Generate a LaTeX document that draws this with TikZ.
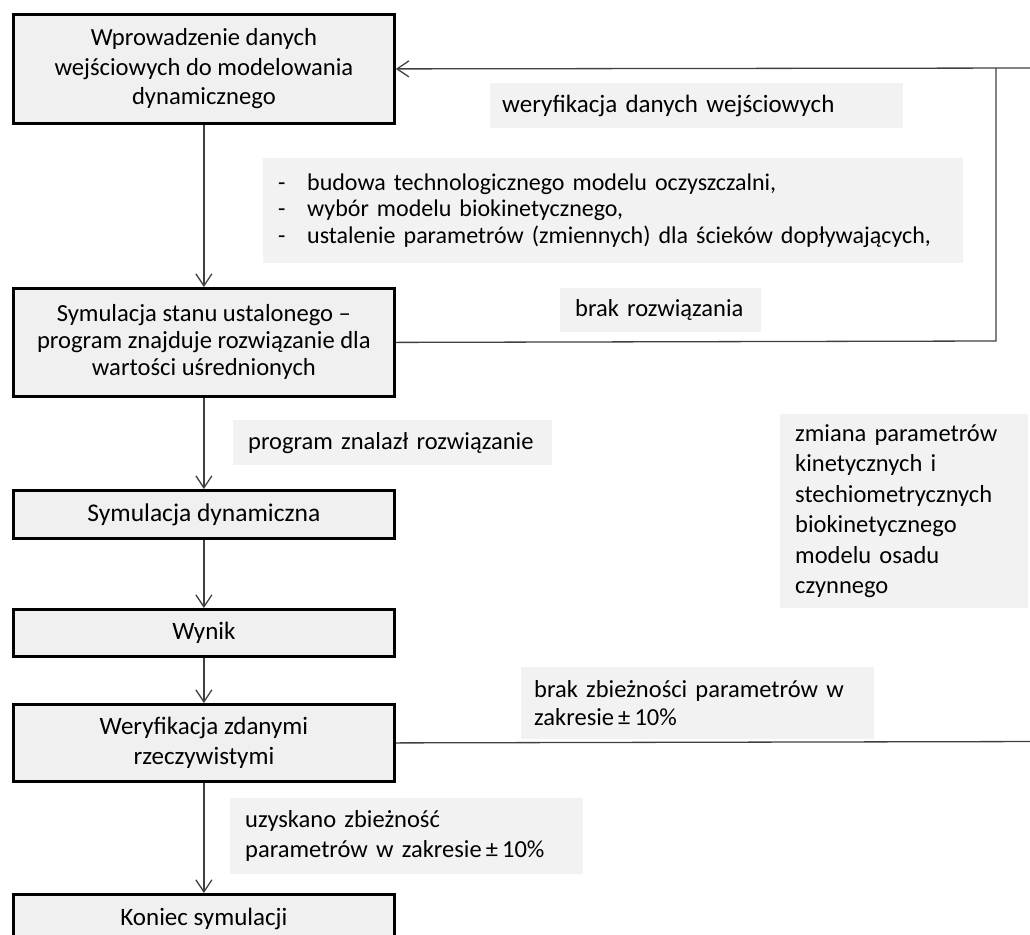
\documentclass[tikz,border=0pt]{standalone}
\usepackage{fontspec}
\setmainfont{Carlito}
\usetikzlibrary{arrows.meta}
\definecolor{boxfill}{HTML}{F0F0F0}
\definecolor{lblfill}{HTML}{F2F2F2}
\definecolor{linecol}{HTML}{404040}
\begin{document}
\begin{tikzpicture}[x=1pt,y=-1pt,
  stepbox/.style={draw=black, line width=2.8pt, fill=boxfill, minimum width=381pt,
    anchor=north west, inner sep=0pt, align=center},
  lblbox/.style={fill=lblfill, anchor=north west, inner ysep=0pt, align=left},
  conn/.style={draw=linecol, line width=1.3pt},
  arr/.style={conn, -{Straight Barb[length=12pt,width=16pt]}}]
\useasboundingbox (0,0) rectangle (1030,934);
\clip (0,0) rectangle (1030,934);
\fill[white] (0,0) rectangle (1030,934);
% main boxes
\node[stepbox, minimum height=109pt, font=\fontsize{24.6}{29.5}\selectfont] (B1) at (12,13)
  {Wprowadzenie danych\\wejściowych do modelowania\\dynamicznego};
\node[stepbox, minimum height=108pt, font=\fontsize{24.6}{27}\selectfont] (B2) at (12,287)
  {Symulacja stanu ustalonego –\\program znajduje rozwiązanie dla\\wartości uśrednionych};
\node[stepbox, minimum height=48pt, font=\fontsize{25.5}{29.5}\selectfont] (B3) at (12,489)
  {Symulacja dynamiczna};
\node[stepbox, minimum height=47pt, font=\fontsize{25}{29.5}\selectfont] (B4) at (12,608)
  {Wynik};
\node[stepbox, minimum height=77pt, font=\fontsize{25}{29.5}\selectfont] (B5) at (12,703)
  {Weryfikacja zdanymi\\rzeczywistymi};
\node[stepbox, minimum height=50pt, font=\fontsize{25}{29.5}\selectfont] (B6) at (12,893)
  {Koniec symulacji};
% label boxes
\node[lblbox, inner xsep=12pt, text width=389pt, minimum height=45pt, font=\fontsize{25}{29.5}\selectfont] (L1) at (490,83)
  {weryfikacja danych wejściowych};
\node[lblbox, inner xsep=15pt, text width=670pt, minimum height=105pt, font=\fontsize{24}{26.5}\selectfont] (L2) at (263,158)
  {\makebox[29pt][l]{-}budowa technologicznego modelu oczyszczalni,\\
   \makebox[29pt][l]{-}wybór modelu biokinetycznego,\\
   \makebox[29pt][l]{-}ustalenie parametrów (zmiennych) dla ścieków dopływających,};
\node[lblbox, inner xsep=15pt, text width=171pt, minimum height=44pt, font=\fontsize{24.5}{29.5}\selectfont] (L3) at (560,288)
  {brak rozwiązania};
\node[lblbox, inner xsep=15pt, text width=289pt, minimum height=45pt, font=\fontsize{24.5}{29.5}\selectfont] (L4) at (233,420)
  {program znalazł rozwiązanie};
\node[lblbox, inner xsep=15pt, text width=218pt, minimum height=194pt, font=\fontsize{24.5}{30.5}\selectfont] (L5) at (780,414)
  {zmiana parametrów\\kinetycznych i\\stechiometrycznych\\biokinetycznego\\modelu osadu\\czynnego};
\node[lblbox, inner xsep=13pt, text width=327pt, minimum height=72pt, font=\fontsize{24.5}{28}\selectfont] (L6) at (521,667)
  {brak zbieżności parametrów w\\zakresie\,±\,10\%};
\node[lblbox, inner xsep=15pt, text width=323pt, minimum height=76pt, font=\fontsize{24.5}{30}\selectfont] (L7) at (230,798)
  {uzyskano zbieżność\\parametrów w zakresie\,±\,10\%};
% coordinates
\coordinate (r1) at (996,341);
\coordinate (r2) at (996,68);
\coordinate (far1) at (1045,68);
\coordinate (far2) at (1045,741.5);
% connectors
\draw[arr] (B1.south) -- (B2.north);
\draw[arr] (B2.south) -- (B3.north);
\draw[arr] (B3.south) -- (B4.north);
\draw[arr] (B4.south) -- (B5.north);
\draw[arr] (B5.south) -- (B6.north);
\draw[conn] (B2.east) -- (r1) -- (r2);
\draw[arr] (far1) -- (B1.east);
\draw[conn] (B5.east) -- (far2) -- (far1);
\end{tikzpicture}
\end{document}
